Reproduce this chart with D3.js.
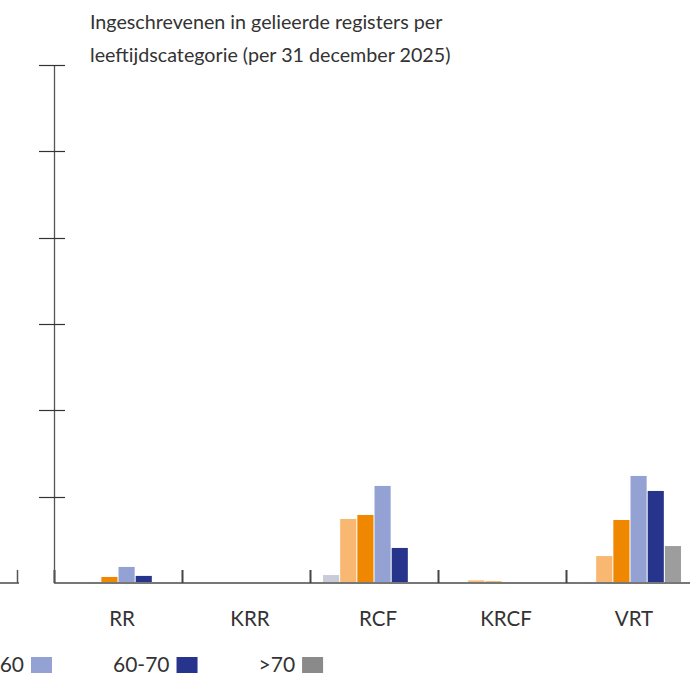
<!DOCTYPE html>
<html>
<head>
<meta charset="utf-8">
<script src="https://cdn.jsdelivr.net/npm/d3@7"></script>
<style>
  html, body { margin: 0; padding: 0; background: #fff; }
  svg { display: block; }
  text { font-family: Lato, "Open Sans", sans-serif; fill: #333; }
</style>
</head>
<body>
<svg id="chart" width="690" height="679"></svg>
<script>
// ---- data ----
const titleLines = ["Ingeschrevenen in gelieerde registers per", "leeftijdscategorie (per 31 december 2025)"];
const categories = ["RR", "KRR", "RCF", "KRCF", "VRT"];
const seriesNames = ["<30", "30-40", "40-50", "50-60", "60-70", ">70"];
const seriesColors = ["#c8cbd8", "#f9b872", "#f08700", "#94a1d3", "#27348b", "#9d9d9d"];
const values = {
  "RR":   [0, 6, 35, 93, 41, 0],
  "KRR":  [0, 0, 5, 4, 2, 0],
  "RCF":  [46, 371, 394, 562, 203, 0],
  "KRCF": [0, 15, 9, 3, 1, 0],
  "VRT":  [6, 156, 365, 620, 533, 214]
};
const yTicks = [0, 500, 1000, 1500, 2000, 2500, 3000];

// ---- layout ----
const svg = d3.select("#chart");
const axisX = 54, baseY = 583, topY = 65, band = 128;

const x0 = d3.scaleBand().domain(categories).range([axisX, axisX + band * categories.length]).padding(0);
const x1 = d3.scaleBand().domain(seriesNames).range([13, 115]).paddingInner(0.06);
const y = d3.scaleLinear().domain([0, 3000]).range([baseY, topY]);

// title
svg.append("g").selectAll("text").data(titleLines).join("text")
  .attr("x", 90).attr("y", (d, i) => 29 + i * 33)
  .attr("font-size", 19.7).text(d => d);

// remnant of neighbouring chart on the left
svg.append("line").attr("x1", 0).attr("x2", 19).attr("y1", baseY).attr("y2", baseY)
  .attr("stroke", "#777").attr("stroke-width", 2);
svg.append("line").attr("x1", 17.5).attr("x2", 17.5).attr("y1", baseY - 13).attr("y2", baseY)
  .attr("stroke", "#555").attr("stroke-width", 1.5);

// bars
const groups = svg.append("g").selectAll("g").data(categories).join("g")
  .attr("transform", d => `translate(${x0(d)},0)`);
groups.selectAll("rect").data(c => values[c].map((v, i) => ({ s: seriesNames[i], v, c: seriesColors[i] })))
  .join("rect")
  .attr("x", d => x1(d.s))
  .attr("width", x1.bandwidth())
  .attr("y", d => y(d.v))
  .attr("height", d => baseY - y(d.v))
  .attr("fill", d => d.c);

// x baseline
svg.append("line").attr("x1", axisX).attr("x2", 690).attr("y1", baseY).attr("y2", baseY)
  .attr("stroke", "#777").attr("stroke-width", 2);

// category boundary ticks
const bounds = categories.map(c => x0(c)).concat([x0(categories[categories.length - 1]) + band]);
svg.append("g").selectAll("line").data(bounds).join("line")
  .attr("x1", d => d + 0.5).attr("x2", d => d + 0.5)
  .attr("y1", baseY - 13).attr("y2", baseY)
  .attr("stroke", "#444").attr("stroke-width", 2);

// category labels
svg.append("g").selectAll("text").data(categories).join("text")
  .attr("x", d => x0(d) + band / 2 + 4).attr("y", 626)
  .attr("text-anchor", "middle").attr("font-size", 20.5).text(d => d);

// y axis
svg.append("line").attr("x1", axisX + 0.5).attr("x2", axisX + 0.5).attr("y1", topY).attr("y2", baseY)
  .attr("stroke", "#555").attr("stroke-width", 1.3);
svg.append("g").selectAll("line").data(yTicks.filter(t => t > 0)).join("line")
  .attr("x1", axisX - 15).attr("x2", axisX + 11)
  .attr("y1", d => Math.round(y(d)) + 0.5).attr("y2", d => Math.round(y(d)) + 0.5)
  .attr("stroke", "#333").attr("stroke-width", 1.2);
// y tick labels (they fall left of the visible crop, as in the reference)
svg.append("g").selectAll("text").data(yTicks).join("text")
  .attr("x", axisX - 70).attr("y", d => y(d) + 6)
  .attr("text-anchor", "end").attr("font-size", 18).text(d => d3.format(",")(d));

// legend: flow layout anchored so that the "50-60" swatch sits at x=31
const legY = 657, sw = 21, sh = 16, gapTS = 7, gapNext = 61;
const leg = svg.append("g");
const measure = leg.append("text").attr("font-size", 21);
const widths = seriesNames.map(s => { measure.text(s); return measure.node().getComputedTextLength(); });
measure.remove();
const anchorIdx = 3;
const sq = [];
sq[anchorIdx] = 31;
for (let i = anchorIdx + 1; i < seriesNames.length; i++) sq[i] = sq[i - 1] + sw + gapNext + widths[i] + gapTS;
for (let i = anchorIdx - 1; i >= 0; i--) sq[i] = sq[i + 1] - gapTS - widths[i + 1] - gapNext - sw;
seriesNames.forEach((s, i) => {
  leg.append("text").attr("font-size", 21).attr("y", 672)
    .attr("x", sq[i] - gapTS).attr("text-anchor", "end").text(s);
  leg.append("rect").attr("x", sq[i]).attr("y", legY).attr("width", sw).attr("height", sh)
    .attr("fill", i === 5 ? "#8a8a8a" : seriesColors[i]);
});
</script>
</body>
</html>
